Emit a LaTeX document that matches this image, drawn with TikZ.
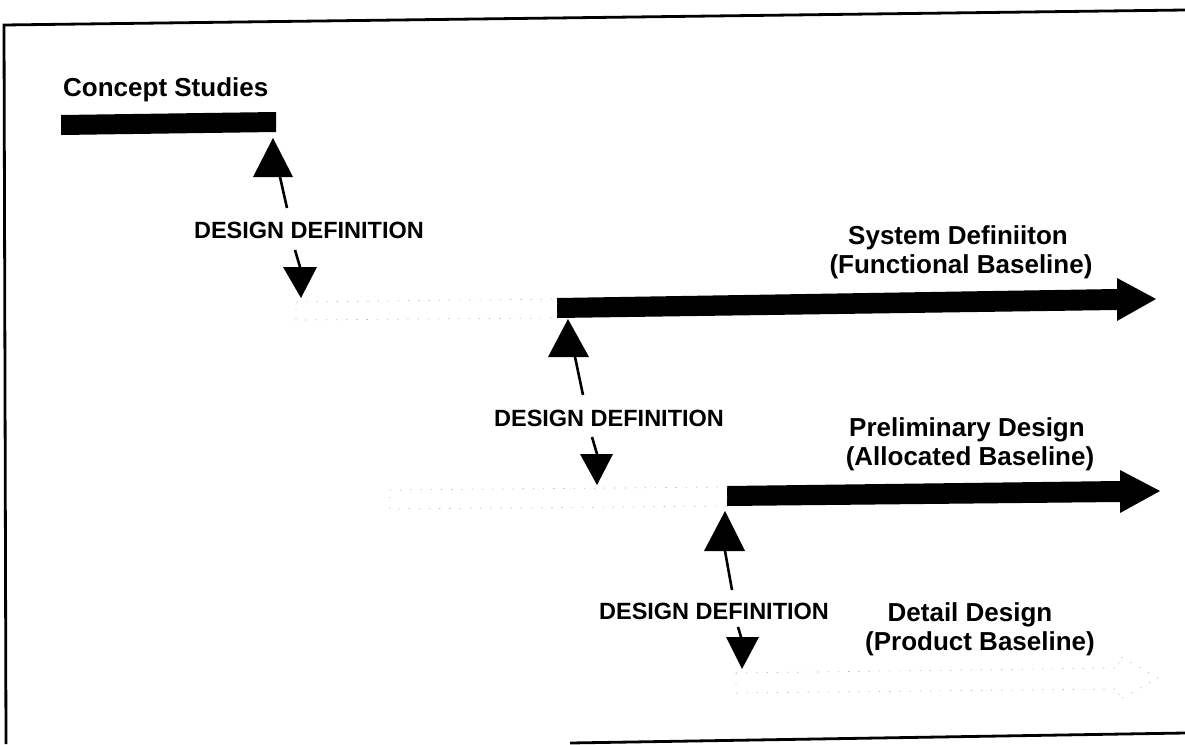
\documentclass[tikz,border=0pt]{standalone}
\usepackage{fontspec}
\setmainfont{Liberation Sans}
\begin{document}
\begin{tikzpicture}[x=1pt,y=-1pt,
  phase/.style={font=\fontsize{26}{29}\selectfont\bfseries, inner sep=0pt, anchor=base},
  ddlabel/.style={font=\fontsize{23.5}{28}\selectfont\bfseries, inner sep=0pt, anchor=base},
  bar/.style={fill=black},
  ghost/.style={draw=black!30, line width=0.7pt, dash pattern=on 1.2pt off 9pt},
  stem/.style={line width=2.6pt},
  head/.style={fill=black},
  frameline/.style={line width=2.8pt}]
\useasboundingbox (0,0) rectangle (1185,744);
% frame (scanned, slightly skewed)
\draw[frameline] (6,744) -- (4,25) -- (1185,10);
\draw[frameline] (570,743) -- (1185,733);

% labels
\node[phase, anchor=base west] (concept) at (63,96) {Concept Studies};
\node[ddlabel] (dd1) at (309,238) {DESIGN DEFINITION};
\node[ddlabel] (dd2) at (609,426) {DESIGN DEFINITION};
\node[ddlabel] (dd3) at (714,619) {DESIGN DEFINITION};
\node[phase] (sys1) at (958,244) {System Definiiton};
\node[phase] (sys2) at (961,273) {(Functional Baseline)};
\node[phase] (pre1) at (967,436) {Preliminary Design};
\node[phase] (pre2) at (970,465) {(Allocated Baseline)};
\node[phase] (det1) at (970,621) {Detail Design};
\node[phase] (det2) at (980,650) {(Product Baseline)};

% bars
\fill[bar] (61,115) -- (276,112) -- (276,132) -- (61,135) -- cycle;
\fill[bar] (557,298) -- (1117,289) -- (1117,278) -- (1156,299) -- (1117,321) -- (1117,310) -- (557,318) -- cycle;
\fill[bar] (727,486) -- (1120,481) -- (1120,470) -- (1160,491) -- (1120,513) -- (1120,502) -- (727,506) -- cycle;
% faint (ghost) bars
\draw[ghost] (296,302) -- (557,299) -- (557,318) -- (296,320) -- cycle;
\draw[ghost] (390,490) -- (727,487) -- (727,506) -- (390,509) -- cycle;
\draw[ghost] (736,673) -- (1119,668) -- (1119,656) -- (1158,678) -- (1119,700) -- (1119,689) -- (736,693) -- cycle;

% connector end points
\coordinate (u1a) at (280,177); \coordinate (u1b) at (287,208);
\coordinate (d1a) at (295,250); \coordinate (d1b) at (300,267);
\coordinate (u2a) at (575,357); \coordinate (u2b) at (583,395);
\coordinate (d2a) at (592,437); \coordinate (d2b) at (597,454);
\coordinate (u3a) at (725,551); \coordinate (u3b) at (732,590);
\coordinate (d3a) at (738,627); \coordinate (d3b) at (741,637);

% design definition arrows
\draw[stem] (u1b) -- (u1a);
\fill[head] (273,138) -- (293,177) -- (253,177) -- cycle;
\draw[stem] (d1a) -- (d1b);
\fill[head] (283,267) -- (317,267) -- (301,298) -- cycle;

\draw[stem] (u2b) -- (u2a);
\fill[head] (568,319) -- (589,357) -- (548,357) -- cycle;
\draw[stem] (d2a) -- (d2b);
\fill[head] (580,454) -- (613,454) -- (597,485) -- cycle;

\draw[stem] (u3b) -- (u3a);
\fill[head] (725,511) -- (745,551) -- (704,551) -- cycle;
\draw[stem] (d3a) -- (d3b);
\fill[head] (726,637) -- (759,637) -- (742,669) -- cycle;
\end{tikzpicture}
\end{document}
